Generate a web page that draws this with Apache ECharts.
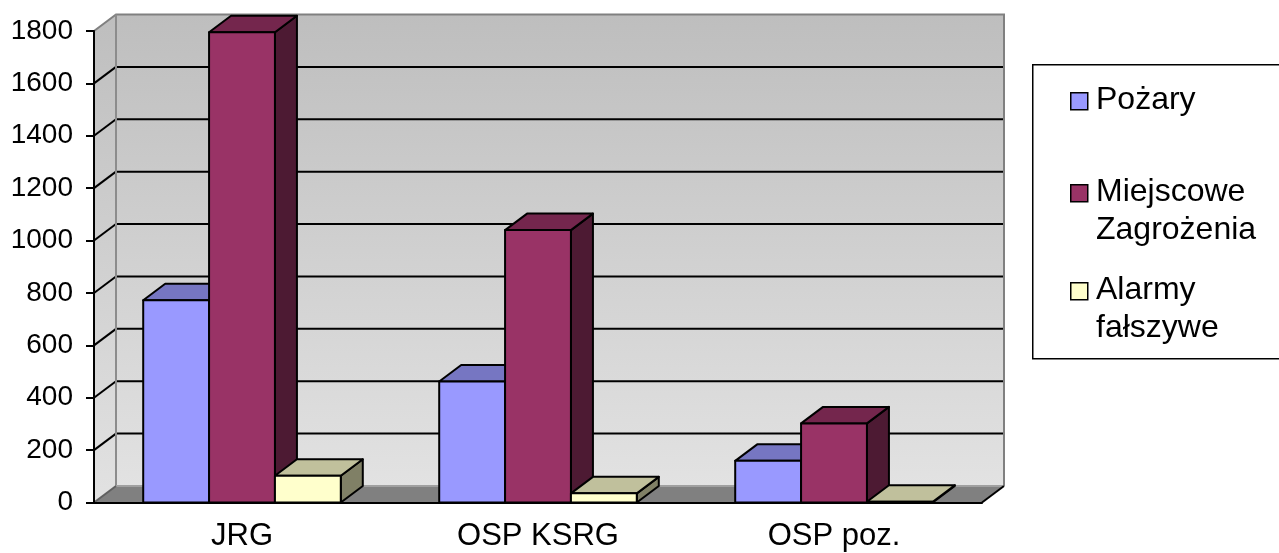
<!DOCTYPE html>
<html>
<head>
  <meta charset="UTF-8" />
  <title>Zdarzenia wg jednostek</title>
  <script src="https://cdn.jsdelivr.net/npm/echarts@6/dist/echarts.min.js"></script>
  <style>
    html, body { margin: 0; height: 100%; background: #fff; }
    #main { width: 1279px; height: 553px; }
  </style>
</head>
<body>
  <div id="main"></div>
  <script>
    const categories = ['JRG', 'OSP KSRG', 'OSP poz.'];
    const seriesNames = ['Pożary', 'Miejscowe\nZagrożenia', 'Alarmy\nfałszywe'];
    const pozary = [772, 462, 159];
    const miejscowe = [1795, 1040, 302];
    const alarmy = [102, 35, 3];
    const yTicks = [0, 200, 400, 600, 800, 1000, 1200, 1400, 1600, 1800];

    // kolory scian slupka: przod, gora, bok
    const faceColors = [
      ['#9999ff', '#7676c2', '#4d4d80'],
      ['#993366', '#74264d', '#4d1a33'],
      ['#ffffcc', '#c0c09c', '#808066']
    ];

    const DX = 22, DY = -16.5; // przesuniecie glebokosci 3D
    const FONT = 'Liberation Sans, Arial, sans-serif';

    const chart = echarts.init(document.getElementById('main'));

    function wallRenderer(params, api) {
      const cs = params.coordSys;
      const xl = cs.x, xr = cs.x + cs.width;
      const yb = api.coord([0, 0])[1];
      const yt = api.coord([0, yTicks[yTicks.length - 1]])[1];
      const grad = () => new echarts.graphic.LinearGradient(0, 0, 0, 1, [
        { offset: 0, color: '#bebebe' }, { offset: 1, color: '#e2e2e2' }
      ]);
      const children = [
        { type: 'rect', shape: { x: xl + DX, y: yt + DY, width: cs.width, height: yb - yt }, style: { fill: grad() } },
        { type: 'polygon', shape: { points: [[xl, yt], [xl + DX, yt + DY], [xl + DX, yb + DY], [xl, yb]] }, style: { fill: grad() } },
        { type: 'polygon', shape: { points: [[xl, yb], [xl + DX, yb + DY], [xr + DX, yb + DY], [xr, yb]] }, style: { fill: '#808080' } }
      ];
      yTicks.forEach(v => {
        if (v === 0 || v === yTicks[yTicks.length - 1]) return;
        const y = api.coord([0, v])[1];
        children.push({ type: 'line', shape: { x1: xl + DX, y1: y + DY, x2: xr + DX, y2: y + DY }, style: { stroke: '#000', lineWidth: 2 } });
        children.push({ type: 'line', shape: { x1: xl, y1: y, x2: xl + DX, y2: y + DY }, style: { stroke: '#000', lineWidth: 2 } });
      });
      // krawedzie scian
      children.push({ type: 'polyline', shape: { points: [[xl, yt], [xl + DX, yt + DY], [xr + DX, yt + DY], [xr + DX, yb + DY]] }, style: { stroke: '#808080', lineWidth: 2, fill: null } });
      children.push({ type: 'line', shape: { x1: xl + DX, y1: yt + DY, x2: xl + DX, y2: yb + DY }, style: { stroke: '#8c8c8c', lineWidth: 2 } });
      children.push({ type: 'line', shape: { x1: xl + DX, y1: yb + DY, x2: xr + DX, y2: yb + DY }, style: { stroke: '#a0a0a0', lineWidth: 2 } });
      children.push({ type: 'line', shape: { x1: xl, y1: yb, x2: xl + DX, y2: yb + DY }, style: { stroke: '#606060', lineWidth: 2 } });
      children.push({ type: 'line', shape: { x1: xr, y1: yb, x2: xr + DX, y2: yb + DY }, style: { stroke: '#000', lineWidth: 2 } });
      return { type: 'group', children };
    }

    function barRenderer(s) {
      return function (params, api) {
        const idx = api.value(0);
        const base = api.coord([idx, 0]);
        const top = api.coord([idx, api.value(1)]);
        const band = api.size([1, 0])[0];
        const bw = band * 0.2225;
        const x = base[0] - 1.5 * bw + s * bw;
        const y0 = base[1], y1 = top[1];
        const c = faceColors[s];
        const ln = { stroke: '#000', lineWidth: 2, lineJoin: 'round' };
        return {
          type: 'group',
          children: [
            { type: 'polygon', shape: { points: [[x + bw, y1], [x + bw + DX, y1 + DY], [x + bw + DX, y0 + DY], [x + bw, y0]] }, style: Object.assign({ fill: c[2] }, ln) },
            { type: 'polygon', shape: { points: [[x, y1], [x + DX, y1 + DY], [x + bw + DX, y1 + DY], [x + bw, y1]] }, style: Object.assign({ fill: c[1] }, ln) },
            { type: 'rect', shape: { x: x, y: y1, width: bw, height: y0 - y1 }, style: Object.assign({ fill: c[0] }, ln) }
          ]
        };
      };
    }

    const values = [pozary, miejscowe, alarmy];

    const legendCenters = [100, 192, 290];
    const legendGraphics = [
      { type: 'rect', left: 1032, top: 64, shape: { width: 252, height: 294 }, style: { fill: '#fff', stroke: '#000', lineWidth: 1.5 } }
    ];
    seriesNames.forEach((name, s) => {
      legendGraphics.push({ type: 'rect', left: 1070, top: legendCenters[s] - 8, shape: { width: 17, height: 17 }, style: { fill: faceColors[s][0], stroke: '#000', lineWidth: 1.5 } });
      legendGraphics.push({
        type: 'text', left: 1096, top: legendCenters[s] - 19,
        style: { text: name, font: '32px ' + FONT, fill: '#000', lineHeight: 38 }
      });
    });

    chart.setOption({
      backgroundColor: '#fff',
      animation: false,
      textStyle: { fontFamily: FONT },
      grid: { left: 94, top: 31, width: 888, height: 471.5 },
      xAxis: {
        type: 'category',
        data: categories,
        axisLine: { lineStyle: { color: '#000', width: 2 } },
        axisTick: { length: 8, lineStyle: { color: '#000', width: 2 } },
        axisLabel: { color: '#000', fontSize: 31, margin: 18 },
        z: 10
      },
      yAxis: {
        type: 'value',
        min: 0, max: 1800, interval: 200,
        axisLine: { show: true, lineStyle: { color: '#000', width: 2 } },
        axisTick: { show: true, length: 8, lineStyle: { color: '#000', width: 2 } },
        axisLabel: { color: '#000', fontSize: 28, margin: 21, formatter: v => String(v) },
        splitLine: { show: false },
        z: 10
      },
      graphic: legendGraphics,
      series: [
        { type: 'custom', name: 'sciany', silent: true, z: 1, renderItem: wallRenderer, data: [[0, 0]], encode: { x: 0, y: 1 } }
      ].concat(values.map((arr, s) => ({
        type: 'custom',
        name: seriesNames[s],
        z: 3 + s,
        renderItem: barRenderer(s),
        itemStyle: { color: faceColors[s][0] },
        data: arr.map((v, i) => [i, v]),
        encode: { x: 0, y: 1 }
      })))
    });
  </script>
</body>
</html>
